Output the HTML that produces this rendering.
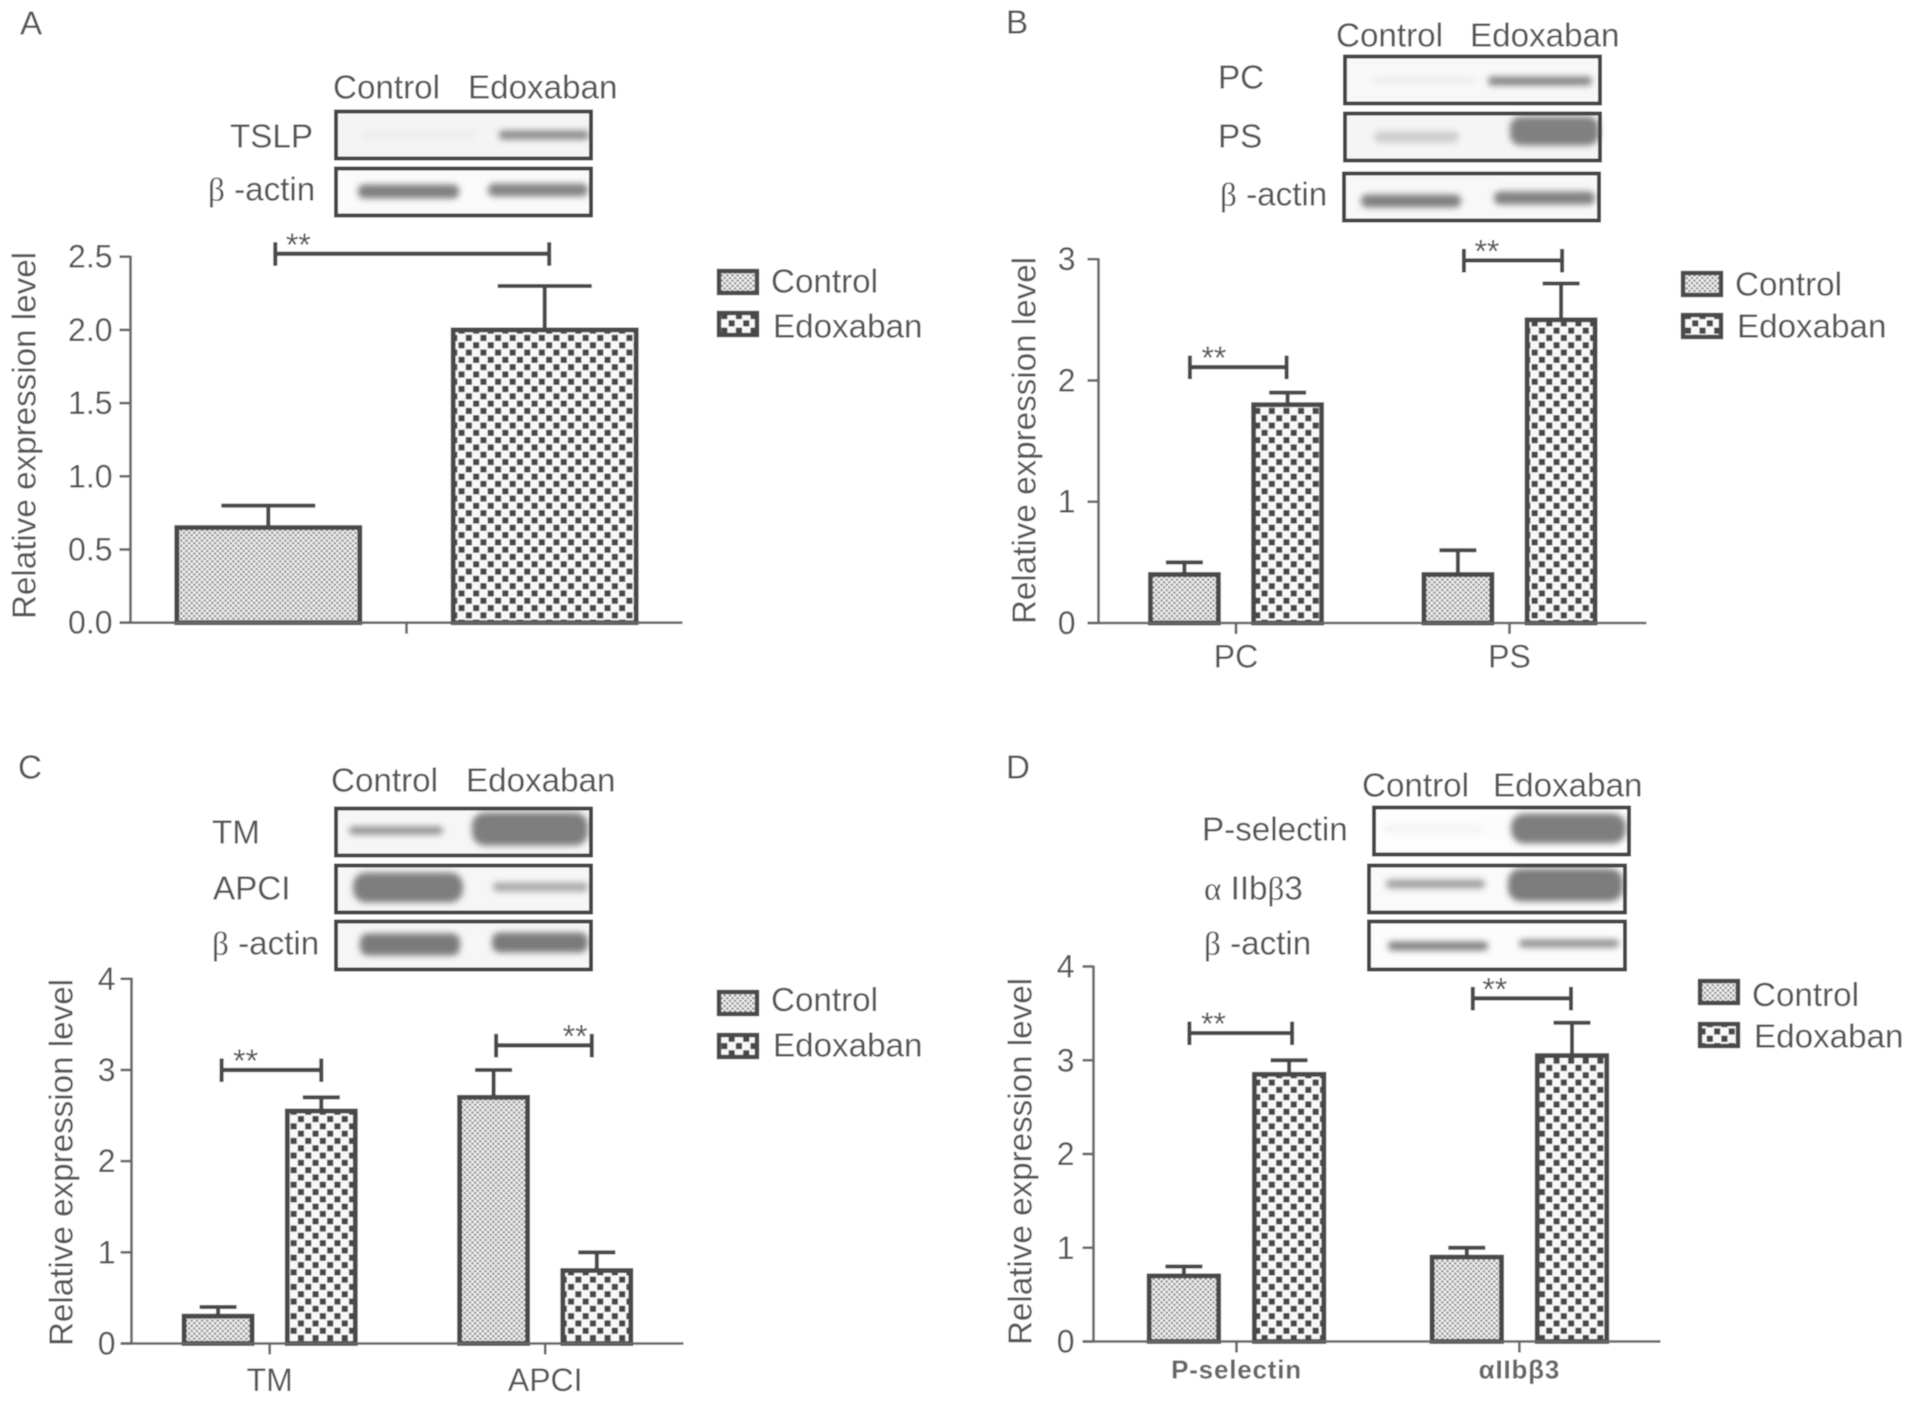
<!DOCTYPE html>
<html lang="en">
<head>
<meta charset="utf-8">
<title>Relative expression level – panels A to D</title>
<style>
html,body{margin:0;padding:0;background:#fff;width:1913px;height:1403px;overflow:hidden}
svg{display:block}
#root{font-family:"Liberation Sans",sans-serif;fill:#555;font-size:33.2px}
.serif{font-family:"Liberation Serif",serif}
.frame{fill:none;stroke:#444;stroke-width:4}
</style>
</head>
<body>
<svg id="figure" xmlns="http://www.w3.org/2000/svg" width="1913" height="1403" viewBox="0 0 1913 1403">
<defs>
<pattern id="patEdox" patternUnits="userSpaceOnUse" width="14.6" height="14.6">
<rect width="14.6" height="14.6" fill="#f8f8f8"/>
<rect x="0.6" y="0.6" width="6.1" height="6.1" fill="#464646"/>
<rect x="7.9" y="7.9" width="6.1" height="6.1" fill="#464646"/>
</pattern>
<pattern id="patCtrl" patternUnits="userSpaceOnUse" width="5.2" height="5.2">
<rect width="5.2" height="5.2" fill="#f0f0f0"/>
<rect x="0.2" y="0.2" width="2.2" height="2.2" fill="#8c8c8c"/>
<rect x="2.8" y="2.8" width="2.2" height="2.2" fill="#8c8c8c"/>
</pattern>
<filter id="bandBlur" x="-20%" y="-80%" width="140%" height="260%"><feGaussianBlur stdDeviation="3.2"/></filter>
<filter id="softBlur" x="-2%" y="-2%" width="104%" height="104%"><feGaussianBlur stdDeviation="0.6"/></filter>
</defs>
<g id="root" filter="url(#softBlur)">
<rect width="1913" height="1403" fill="#fff"/>
<g transform="translate(-2 -1.5)">

<!-- Panel letters -->
<text x="22" y="36">A</text>
<text x="1008" y="35">B</text>
<text x="20" y="780">C</text>
<text x="1008" y="780">D</text>

<!-- Blot A -->
<g>
<text x="335" y="100">Control</text>
<text x="470" y="100">Edoxaban</text>
<text x="232" y="149">TSLP</text>
<text x="210" y="202"><tspan class="serif">β</tspan> -actin</text>
<g transform="translate(1 1)">
<rect x="337" y="112" width="255" height="47" fill="#f4f4f4"/>
<rect x="365" y="131" width="110" height="8" fill="#ececec" filter="url(#bandBlur)"/>
<rect x="500" y="131" width="90" height="9" rx="4" fill="#8a8a8a" filter="url(#bandBlur)"/>
<rect class="frame" x="337" y="112" width="255" height="47"/>
<rect x="337" y="169" width="255" height="47" fill="#fafafa"/>
<rect x="359" y="185" width="101" height="14" rx="6" fill="#808080" filter="url(#bandBlur)"/>
<rect x="489" y="184" width="100" height="13" rx="6" fill="#848484" filter="url(#bandBlur)"/>
<rect class="frame" x="337" y="169" width="255" height="47"/>
</g>
</g>

<!-- Blot B -->
<g>
<text x="1338" y="48">Control</text>
<text x="1472" y="48">Edoxaban</text>
<text x="1220" y="90">PC</text>
<text x="1220" y="149">PS</text>
<text x="1222" y="207"><tspan class="serif">β</tspan> -actin</text>
<g transform="translate(1 1)">
<rect x="1346" y="57" width="255" height="47" fill="#f8f8f8"/>
<rect x="1375" y="78" width="100" height="6" fill="#ececec" filter="url(#bandBlur)"/>
<rect x="1489" y="77" width="104" height="9" rx="4" fill="#868686" filter="url(#bandBlur)"/>
<rect class="frame" x="1346" y="57" width="255" height="47"/>
<rect x="1346" y="114" width="255" height="47" fill="#f5f5f5"/>
<rect x="1375" y="132" width="85" height="11" rx="5" fill="#cdcdcd" filter="url(#bandBlur)"/>
<rect x="1511" y="117" width="89" height="29" rx="11" fill="#808080" filter="url(#bandBlur)"/>
<rect class="frame" x="1346" y="114" width="255" height="47"/>
<rect x="1345" y="174" width="255" height="47" fill="#f8f8f8"/>
<rect x="1362" y="195" width="100" height="13" rx="6" fill="#808080" filter="url(#bandBlur)"/>
<rect x="1495" y="192" width="101" height="13" rx="6" fill="#808080" filter="url(#bandBlur)"/>
<rect class="frame" x="1345" y="174" width="255" height="47"/>
</g>
</g>

<!-- Blot C -->
<g>
<text x="333" y="793">Control</text>
<text x="468" y="793">Edoxaban</text>
<text x="214" y="845">TM</text>
<text x="215" y="901">APCI</text>
<text x="214" y="956"><tspan class="serif">β</tspan> -actin</text>
<g transform="translate(1 1)">
<rect x="337" y="809" width="255" height="47" fill="#f6f6f6"/>
<rect x="350" y="827" width="94" height="8" rx="4" fill="#929292" filter="url(#bandBlur)"/>
<rect x="473" y="813" width="116" height="33" rx="13" fill="#7e7e7e" filter="url(#bandBlur)"/>
<rect class="frame" x="337" y="809" width="255" height="47"/>
<rect x="337" y="866" width="255" height="47" fill="#f6f6f6"/>
<rect x="354" y="873" width="110" height="30" rx="13" fill="#7e7e7e" filter="url(#bandBlur)"/>
<rect x="494" y="883" width="95" height="9" rx="4" fill="#a8a8a8" filter="url(#bandBlur)"/>
<rect class="frame" x="337" y="866" width="255" height="47"/>
<rect x="337" y="922" width="255" height="48" fill="#f6f6f6"/>
<rect x="361" y="934" width="100" height="22" rx="8" fill="#7a7a7a" filter="url(#bandBlur)"/>
<rect x="493" y="933" width="96" height="20" rx="8" fill="#7a7a7a" filter="url(#bandBlur)"/>
<rect class="frame" x="337" y="922" width="255" height="48"/>
</g>
</g>

<!-- Blot D -->
<g>
<text x="1364" y="798">Control</text>
<text x="1495" y="798">Edoxaban</text>
<text x="1204" y="842">P-selectin</text>
<text x="1206" y="901"><tspan class="serif">α</tspan> IIb<tspan class="serif">β</tspan>3</text>
<text x="1206" y="956"><tspan class="serif">β</tspan> -actin</text>
<g transform="translate(1 1)">
<rect x="1375" y="808" width="255" height="47" fill="#fdfdfd"/>
<rect x="1385" y="826" width="100" height="7" fill="#f2f2f2" filter="url(#bandBlur)"/>
<rect x="1512" y="814" width="115" height="30" rx="13" fill="#7e7e7e" filter="url(#bandBlur)"/>
<rect class="frame" x="1375" y="808" width="255" height="47"/>
<rect x="1370" y="866" width="256" height="47" fill="#fafafa"/>
<rect x="1387" y="880" width="99" height="9" rx="4" fill="#a0a0a0" filter="url(#bandBlur)"/>
<rect x="1509" y="869" width="115" height="33" rx="13" fill="#7c7c7c" filter="url(#bandBlur)"/>
<rect class="frame" x="1370" y="866" width="256" height="47"/>
<rect x="1370" y="922" width="256" height="48" fill="#fcfcfc"/>
<rect x="1389" y="942" width="100" height="9" rx="4" fill="#808080" filter="url(#bandBlur)"/>
<rect x="1520" y="940" width="100" height="8" rx="4" fill="#8e8e8e" filter="url(#bandBlur)"/>
<rect class="frame" x="1370" y="922" width="256" height="48"/>
</g>
</g>

<g id="charts"></g>
</g>
</g>
</svg>
<script>
// ---- Chart data ----
const panelACategories = [''];
const panelAControl = [0.65];
const panelAEdoxaban = [2.0];
const panelAControlTop = [0.8];
const panelAEdoxabanTop = [2.3];
const panelASignificance = [2.52];
const panelATicks = [0, 0.5, 1, 1.5, 2, 2.5];
const panelATickLabels = ['0.0', '0.5', '1.0', '1.5', '2.0', '2.5'];

const panelBCategories = ['PC', 'PS'];
const panelBControl = [0.4, 0.4];
const panelBEdoxaban = [1.8, 2.5];
const panelBControlTop = [0.5, 0.6];
const panelBEdoxabanTop = [1.9, 2.8];
const panelBSignificance = [2.11, 2.99];
const panelBTicks = [0, 1, 2, 3];
const panelBTickLabels = ['0', '1', '2', '3'];

const panelCCategories = ['TM', 'APCI'];
const panelCControl = [0.3, 2.7];
const panelCEdoxaban = [2.55, 0.8];
const panelCControlTop = [0.4, 3.0];
const panelCEdoxabanTop = [2.7, 1.0];
const panelCSignificance = [3.0, 3.27];
const panelCTicks = [0, 1, 2, 3, 4];
const panelCTickLabels = ['0', '1', '2', '3', '4'];

const panelDCategories = ['P-selectin', 'αIIbβ3'];
const panelDControl = [0.7, 0.9];
const panelDEdoxaban = [2.85, 3.05];
const panelDControlTop = [0.8, 1.0];
const panelDEdoxabanTop = [3.0, 3.4];
const panelDSignificance = [3.29, 3.66];
const panelDTicks = [0, 1, 2, 3, 4];
const panelDTickLabels = ['0', '1', '2', '3', '4'];

// ---- Drawing ----
const SVG_NS = 'http://www.w3.org/2000/svg';
const INK = '#484848';
const AXIS = '#666';

function mk(parent, tag, attrs, name) {
  const el = document.createElementNS(SVG_NS, tag);
  for (const k in attrs) el.setAttribute(k, attrs[k]);
  
  
  parent.appendChild(el);
  return el;
}

function line(parent, x1, y1, x2, y2, stroke, width, name) {
  return mk(parent, 'line', {x1: x1, y1: y1, x2: x2, y2: y2, stroke: stroke, 'stroke-width': width}, name);
}

function label(parent, str, x, y, attrs, name) {
  const t = mk(parent, 'text', Object.assign({x: x, y: y}, attrs), name);
  t.textContent = str;
  return t;
}

function drawPanel(cfg) {
  const root = document.getElementById('charts');
  const g = mk(root, 'g', {}, 'chart-panel-' + cfg.id);

  const yScale = function (v) { return cfg.y0 - (v / cfg.yMax) * (cfg.y0 - cfg.yTop); };
  const groupCenter = function (i) { return cfg.groupStart + i * cfg.groupStep; };
  const barCenter = function (i, s) { return groupCenter(i) + (s === 0 ? -cfg.barOffset : cfg.barOffset); };

  // y axis title
  label(g, 'Relative expression level', 0, 0, {
    transform: 'translate(' + cfg.titleX + ' ' + cfg.titleY + ') rotate(-90)',
    'text-anchor': 'middle', 'dominant-baseline': 'central'
  }, 'y-axis-title');

  // bars + error bars
  const series = [
    {key: 'control', vals: cfg.control, tops: cfg.controlTop, pat: 'url(#patCtrl)'},
    {key: 'edoxaban', vals: cfg.edoxaban, tops: cfg.edoxabanTop, pat: 'url(#patEdox)'}
  ];
  series.forEach(function (s, si) {
    s.vals.forEach(function (v, i) {
      const cx = barCenter(i, si);
      const top = yScale(v);
      const errTop = yScale(s.tops[i]);
      line(g, cx, top, cx, errTop, INK, 4, 'error-bar-' + s.key + '-' + (i + 1));
      line(g, cx - cfg.capWidth / 2, errTop, cx + cfg.capWidth / 2, errTop, INK, 4, 'error-cap-' + s.key + '-' + (i + 1));
      mk(g, 'rect', {
        x: cx - cfg.barWidth / 2, y: top, width: cfg.barWidth, height: cfg.y0 - top,
        fill: s.pat, stroke: INK, 'stroke-width': 4.8
      }, 'bar-' + s.key + '-' + (i + 1));
    });
  });

  // axes
  line(g, cfg.axisX, cfg.yTop - 1, cfg.axisX, cfg.y0, AXIS, 2.6, 'y-axis');
  line(g, cfg.axisX - 11, cfg.y0, cfg.xEnd, cfg.y0, AXIS, 2.6, 'x-axis');

  cfg.ticks.forEach(function (t, i) {
    const y = yScale(t);
    line(g, cfg.axisX - 11, y, cfg.axisX, y, AXIS, 2.6, 'y-tick');
    label(g, cfg.tickLabels[i], cfg.axisX - cfg.tickGap, y, {
      'text-anchor': 'end', 'dominant-baseline': 'central', 'font-size': '32'
    }, 'y-tick-label');
  });

  cfg.categories.forEach(function (c, i) {
    const x = groupCenter(i);
    line(g, x, cfg.y0, x, cfg.y0 + 11, AXIS, 2.6, 'x-tick');
    if (c) {
      label(g, c, x, cfg.catY, Object.assign({
        'text-anchor': 'middle', 'dominant-baseline': 'central'
      }, cfg.catStyle), 'x-category-label');
    }
  });

  // significance brackets
  cfg.significance.forEach(function (v, i) {
    const y = yScale(v);
    const xa = barCenter(i, 0) + cfg.sigInsetA[i];
    const xb = barCenter(i, 1) + cfg.sigInsetB[i];
    line(g, xa, y, xb, y, INK, 4.2, 'significance-bracket-' + (i + 1));
    line(g, xa, y - 11.5, xa, y + 12, INK, 4, 'significance-bracket-left-' + (i + 1));
    line(g, xb, y - 11.5, xb, y + 12, INK, 4, 'significance-bracket-right-' + (i + 1));
    label(g, '**', xa + cfg.starDx[i], y + 2, {'text-anchor': 'middle', 'font-size': '32'}, 'significance-stars-' + (i + 1));
  });

  // legend
  const lg = mk(g, 'g', {}, 'legend');
  mk(lg, 'rect', {x: cfg.legX, y: cfg.legY1, width: 38, height: 22, fill: 'url(#patCtrl)', stroke: INK, 'stroke-width': 4.4}, 'legend-swatch-control');
  mk(lg, 'rect', {x: cfg.legX, y: cfg.legY2, width: 38, height: 22, fill: 'url(#patEdox)', stroke: INK, 'stroke-width': 4.4}, 'legend-swatch-edoxaban');
  label(lg, 'Control', cfg.legX + 52, cfg.legT1, {'dominant-baseline': 'central'}, 'legend-label-control');
  label(lg, 'Edoxaban', cfg.legX + 54, cfg.legT2, {'dominant-baseline': 'central'}, 'legend-label-edoxaban');
}

drawPanel({
  id: 'a', categories: panelACategories, control: panelAControl, edoxaban: panelAEdoxaban,
  controlTop: panelAControlTop, edoxabanTop: panelAEdoxabanTop, significance: panelASignificance,
  ticks: panelATicks, tickLabels: panelATickLabels, yMax: 2.5,
  axisX: 132.5, y0: 624.2, yTop: 258.2, xEnd: 684.5, tickGap: 18,
  groupStart: 408.5, groupStep: 0, barOffset: 138.2, barWidth: 183, capWidth: 94,
  sigInsetA: [7], sigInsetB: [4.5], starDx: [23],
  titleX: 27, titleY: 437, catY: 0, catStyle: {},
  legX: 721, legY1: 272.5, legY2: 314.5, legT1: 283.5, legT2: 328.5
});
drawPanel({
  id: 'b', categories: panelBCategories, control: panelBControl, edoxaban: panelBEdoxaban,
  controlTop: panelBControlTop, edoxabanTop: panelBEdoxabanTop, significance: panelBSignificance,
  ticks: panelBTicks, tickLabels: panelBTickLabels, yMax: 3,
  axisX: 1100.5, y0: 624.5, yTop: 260.7, xEnd: 1648.5, tickGap: 23,
  groupStart: 1238, groupStep: 273.5, barOffset: 51.6, barWidth: 68, capWidth: 37,
  sigInsetA: [5.5, 6], sigInsetB: [-1, 1], starDx: [24, 23],
  titleX: 1027, titleY: 442, catY: 658, catStyle: {'font-size': '32'},
  legX: 1685, legY1: 274.5, legY2: 316.5, legT1: 286.5, legT2: 328.5
});
drawPanel({
  id: 'c', categories: panelCCategories, control: panelCControl, edoxaban: panelCEdoxaban,
  controlTop: panelCControlTop, edoxabanTop: panelCEdoxabanTop, significance: panelCSignificance,
  ticks: panelCTicks, tickLabels: panelCTickLabels, yMax: 4,
  axisX: 133.5, y0: 1345, yTop: 980.3, xEnd: 685.5, tickGap: 16,
  groupStart: 271.7, groupStep: 275.5, barOffset: 51.6, barWidth: 68, capWidth: 37,
  sigInsetA: [3.5, 2.5], sigInsetB: [0, -5], starDx: [24, 79],
  titleX: 64, titleY: 1164, catY: 1381.5, catStyle: {'font-size': '32'},
  legX: 721, legY1: 993.5, legY2: 1036.5, legT1: 1002, legT2: 1047.5
});
drawPanel({
  id: 'd', categories: panelDCategories, control: panelDControl, edoxaban: panelDEdoxaban,
  controlTop: panelDControlTop, edoxabanTop: panelDEdoxabanTop, significance: panelDSignificance,
  ticks: panelDTicks, tickLabels: panelDTickLabels, yMax: 4,
  axisX: 1095.5, y0: 1343, yTop: 968, xEnd: 1662.5, tickGap: 19,
  groupStart: 1238.5, groupStep: 282.9, barOffset: 52.6, barWidth: 69.5, capWidth: 37,
  sigInsetA: [5.5, 6], sigInsetB: [3, -1], starDx: [24, 22],
  titleX: 1023, titleY: 1163, catY: 1371,
  catStyle: {'font-size': '26', 'font-weight': 'bold', 'letter-spacing': '0.8', fill: '#666'},
  legX: 1702, legY1: 982.5, legY2: 1025.5, legT1: 997, legT2: 1038.5
});
</script>
</body>
</html>
